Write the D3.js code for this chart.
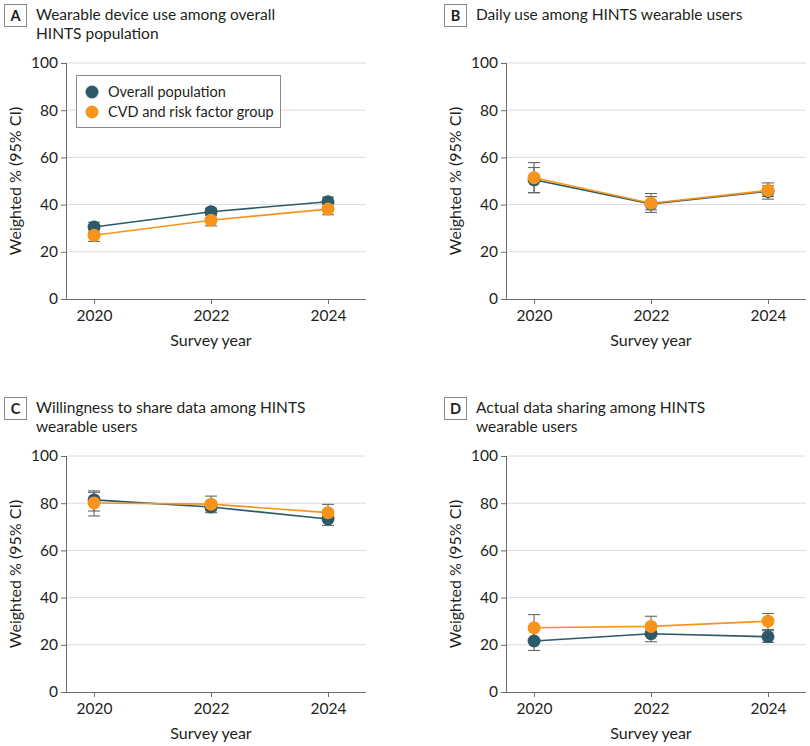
<!DOCTYPE html>
<html>
<head>
<meta charset="utf-8">
<script src="https://cdn.jsdelivr.net/npm/d3@7"></script>
<style>
    body { margin: 0; background: #fff; }
    svg text { font-family: "Lato", sans-serif; fill: #231f20; }
    .grid-line { stroke: #dcdcdc; stroke-width: 1; }
    .axis path, .axis line { stroke: #6d6d6d; stroke-width: 1; }
    .axis text { font-size: 15.5px; fill: #231f20; }
    .err { stroke: #666; stroke-width: 1.1; }
</style>
</head>
<body>
<svg id="svg" width="810" height="746"></svg>
<script>
// survey years
const years = [2020, 2022, 2024];
const yTicks = [0, 20, 40, 60, 80, 100];
const seriesNames = ['Overall population', 'CVD and risk factor group'];
const seriesColors = ['#2c5a68', '#f7941d'];

const panelLetters = ['A', 'B', 'C', 'D'];
const panelTitles = [
    ['Wearable device use among overall', 'HINTS population'],
    ['Daily use among HINTS wearable users'],
    ['Willingness to share data among HINTS', 'wearable users'],
    ['Actual data sharing among HINTS', 'wearable users']
];

// weighted % and 95% CI, [overall, cvd]
const estA = [[30.5, 37.0, 41.2], [27.0, 33.4, 38.1]];
const lowA = [[28.4, 35.3, 39.2], [24.4, 31.0, 35.7]];
const highA = [[32.5, 38.5, 43.2], [29.4, 35.7, 40.4]];

const estB = [[50.5, 40.3, 45.6], [51.4, 40.6, 46.0]];
const lowB = [[45.1, 37.8, 43.4], [45.0, 36.7, 42.3]];
const highB = [[55.7, 43.4, 48.0], [57.8, 44.7, 49.2]];

const estC = [[81.4, 78.4, 73.3], [80.1, 79.6, 76.0]];
const lowC = [[76.7, 76.0, 70.6], [74.6, 76.8, 72.6]];
const highC = [[85.2, 80.8, 76.0], [84.6, 83.0, 79.5]];

const estD = [[21.6, 24.7, 23.4], [27.2, 27.8, 30.0]];
const lowD = [[17.6, 21.3, 21.0], [22.3, 23.6, 26.5]];
const highD = [[26.2, 28.2, 26.0], [32.8, 32.1, 33.3]];

const panelData = [
    [estA, lowA, highA],
    [estB, lowB, highB],
    [estC, lowC, highC],
    [estD, lowD, highD]
];

const svg = d3.select('#svg');
const plotW = 300, plotH = 236;
const origins = [[66, 63], [506, 63], [66, 456], [506, 456]];

const xScale = d3.scaleLinear().domain([2019.52, 2024.65]).range([0, plotW]);
const yScale = d3.scaleLinear().domain([0, 100]).range([plotH, 0]);

panelData.forEach((pd, p) => {
    const [ox, oy] = origins[p];
    const g = svg.append('g').attr('transform', 'translate(' + ox + ',' + oy + ')');

    // panel heading
    const head = svg.append('g').attr('transform', 'translate(' + (ox - 62) + ',' + (oy - 59) + ')');
    head.append('rect')
        .attr('x', 0.5).attr('y', 0.5)
        .attr('width', 22).attr('height', 22)
        .attr('fill', '#fff')
        .attr('stroke', '#8a8a8a');
    head.append('text')
        .attr('x', 11.5).attr('y', 17)
        .attr('text-anchor', 'middle')
        .attr('font-size', 14.5)
        .attr('font-weight', 'bold')
        .text(panelLetters[p]);
    panelTitles[p].forEach((line, i) => {
        head.append('text')
            .attr('x', 32).attr('y', 16 + i * 18.5)
            .attr('font-size', 15.5)
            .text(line);
    });

    // grid
    g.selectAll('.grid-line')
        .data(yTicks.slice(1))
        .enter().append('line')
        .attr('class', 'grid-line')
        .attr('x1', 0).attr('x2', plotW)
        .attr('y1', d => yScale(d)).attr('y2', d => yScale(d));

    const yAxis = d3.axisLeft(yScale).tickValues(yTicks).tickSize(5).tickPadding(3);
    g.append('g').attr('class', 'axis').call(yAxis)
        .select('.domain').attr('d', 'M0.5,0V' + plotH);

    const xAxis = d3.axisBottom(xScale).tickValues(years).tickFormat(d3.format('d')).tickSize(5).tickPadding(6);
    g.append('g').attr('class', 'axis')
        .attr('transform', 'translate(0,' + plotH + ')')
        .call(xAxis)
        .select('.domain').attr('d', 'M0,0.5H' + plotW);

    g.append('text')
        .attr('transform', 'translate(-45,' + (plotH / 2) + ') rotate(-90)')
        .attr('text-anchor', 'middle')
        .attr('font-size', 16)
        .text('Weighted % (95% CI)');

    g.append('text')
        .attr('x', xScale(2022)).attr('y', plotH + 47)
        .attr('text-anchor', 'middle')
        .attr('font-size', 16)
        .text('Survey year');

    const [est, low, high] = pd;

    // error bars
    seriesNames.forEach((_, s) => {
        const eg = g.append('g');
        years.forEach((yr, i) => {
            const cx = xScale(yr);
            eg.append('line').attr('class', 'err')
                .attr('x1', cx).attr('x2', cx)
                .attr('y1', yScale(low[s][i])).attr('y2', yScale(high[s][i]));
            [low[s][i], high[s][i]].forEach(v => {
                eg.append('line').attr('class', 'err')
                    .attr('x1', cx - 6).attr('x2', cx + 6)
                    .attr('y1', yScale(v)).attr('y2', yScale(v));
            });
        });
    });

    const line = d3.line().x((d, i) => xScale(years[i])).y(d => yScale(d));
    seriesNames.forEach((_, s) => {
        g.append('path')
            .datum(est[s])
            .attr('d', line)
            .attr('fill', 'none')
            .attr('stroke', seriesColors[s])
            .attr('stroke-width', 1.6);
        g.selectAll('.pt' + s)
            .data(est[s])
            .enter().append('circle')
            .attr('cx', (d, i) => xScale(years[i]))
            .attr('cy', d => yScale(d))
            .attr('r', 6.5)
            .attr('fill', seriesColors[s]);
    });

    if (p === 0) {
        const lg = g.append('g').attr('transform', 'translate(10,12)');
        lg.append('rect')
            .attr('x', 0.5).attr('y', 0.5)
            .attr('width', 204).attr('height', 52)
            .attr('fill', '#fff')
            .attr('stroke', '#8a8a8a');
        seriesNames.forEach((name, s) => {
            lg.append('circle')
                .attr('cx', 16).attr('cy', 17 + s * 20)
                .attr('r', 6.5)
                .attr('fill', seriesColors[s]);
            lg.append('text')
                .attr('x', 32).attr('y', 22 + s * 20)
                .attr('font-size', 14.5)
                .text(name);
        });
    }
});
</script>
</body>
</html>
